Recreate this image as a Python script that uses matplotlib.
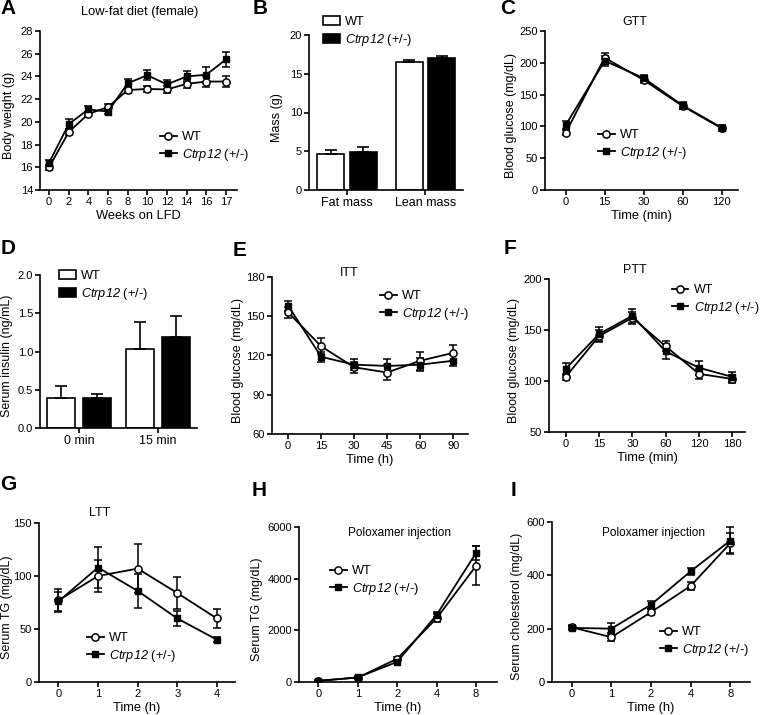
import matplotlib
matplotlib.use("Agg")
import matplotlib.pyplot as plt
import numpy as np

# -----------------------------------------------------------------------------
# Police : Liberation Sans (métriques Arial)
# Le nom du gène est en mathtext : rm et it pointent sur l'italique pour que
# les chiffres de "Ctrp12" soient aussi en italique.
# -----------------------------------------------------------------------------
plt.rcParams['font.family'] = ['Liberation Sans', 'DejaVu Sans']
plt.rcParams['mathtext.fontset'] = 'custom'
plt.rcParams['mathtext.rm'] = 'Liberation Sans:italic'
plt.rcParams['mathtext.it'] = 'Liberation Sans:italic'

W, H = 760, 715
WT_LABEL = 'WT'
KO_LABEL = r'$Ctrp12$ (+/-)'

# ---- A : poids corporel ----
a_weeks = ['0', '2', '4', '6', '8', '10', '12', '14', '16', '17']
a_wt = [16.0, 19.1, 20.7, 21.3, 22.8, 22.9, 22.85, 23.35, 23.55, 23.55]
a_wt_err = [0.2, 0.3, 0.2, 0.3, 0.3, 0.3, 0.3, 0.35, 0.5, 0.45]
a_ko = [16.4, 19.8, 21.1, 20.9, 23.4, 24.1, 23.3, 24.0, 24.15, 25.5]
a_ko_err = [0.2, 0.45, 0.3, 0.2, 0.35, 0.45, 0.4, 0.5, 0.7, 0.65]

# ---- B : masse grasse / maigre ----
b_groups = ['Fat mass', 'Lean mass']
b_wt = [4.6, 16.5]
b_wt_err = [0.5, 0.3]
b_ko = [4.85, 17.0]
b_ko_err = [0.65, 0.3]

# ---- C : GTT ----
c_time = ['0', '15', '30', '60', '120']
c_wt = [90, 208, 173, 132, 97]
c_wt_err = [4, 8, 5, 5, 4]
c_ko = [102, 203, 176, 133, 98]
c_ko_err = [6, 8, 5, 6, 4]

# ---- D : insuline ----
d_groups = ['0 min', '15 min']
d_wt = [0.39, 1.03]
d_wt_err = [0.16, 0.36]
d_ko = [0.39, 1.19]
d_ko_err = [0.06, 0.27]

# ---- E : ITT ----
e_time = ['0', '15', '30', '45', '60', '90']
e_wt = [153, 127, 111, 107, 116, 122]
e_wt_err = [4, 6, 4, 6, 7, 6]
e_ko = [158, 119, 113, 112, 113, 116]
e_ko_err = [4, 4, 4, 5, 5, 4]

# ---- F : PTT ----
f_time = ['0', '15', '30', '60', '120', '180']
f_wt = [104, 144, 162, 134, 107, 102]
f_wt_err = [3, 6, 6, 5, 5, 4]
f_ko = [112, 146, 164, 129, 113, 104]
f_ko_err = [6, 7, 7, 7, 7, 5]

# ---- G : LTT ----
g_time = ['0', '1', '2', '3', '4']
g_wt = [77, 100, 107, 84, 60]
g_wt_err = [11, 15, 23, 15, 9]
g_ko = [76, 108, 86, 60, 40]
g_ko_err = [9, 19, 16, 7, 2]

# ---- H : TG après poloxamer ----
h_time = ['0', '1', '2', '4', '8']
h_wt = [50, 170, 900, 2470, 4500]
h_wt_err = [30, 40, 80, 150, 760]
h_ko = [40, 180, 780, 2600, 5000]
h_ko_err = [30, 40, 60, 100, 270]

# ---- I : cholestérol après poloxamer ----
i_time = ['0', '1', '2', '4', '8']
i_wt = [205, 168, 262, 360, 520]
i_wt_err = [8, 15, 10, 15, 38]
i_ko = [203, 200, 290, 415, 530]
i_ko_err = [8, 20, 15, 12, 50]


fig = plt.figure(figsize=(W / 100, H / 100), dpi=100)


def px_axes(left, top, right, bottom):
    """Crée un axe à partir de coordonnées en pixels (origine en haut à gauche)."""
    ax = fig.add_axes([left / W, 1 - bottom / H, (right - left) / W, (bottom - top) / H])
    ax.px = (left, top, right, bottom)
    for side in ('top', 'right'):
        ax.spines[side].set_visible(False)
    for side in ('left', 'bottom'):
        ax.spines[side].set_linewidth(1.2)
    ax.tick_params(direction='out', length=3.5, width=1.2, labelsize=8, pad=1.5)
    return ax


def fig_text(x, y, s, **kw):
    fig.text(x / W, 1 - y / H, s, ha='center', va='center', **kw)


def set_labels(ax, ylabel, ylab_x, xlabel=None):
    """Titre d'axe y placé par son centre (pixels) ; titre x sous les graduations."""
    left, top, right, bottom = ax.px
    ax.set_ylabel(ylabel, fontsize=9)
    ax.yaxis.set_label_coords((ylab_x - left) / (right - left), 0.47)
    ax.yaxis.label.set_verticalalignment('center')
    if xlabel:
        ax.set_xlabel(xlabel, fontsize=9.3, labelpad=2.5)


def style_y(ax, ylim, step, fmt=None):
    ax.set_ylim(*ylim)
    ticks = np.arange(ylim[0], ylim[1] + step / 2, step)
    ax.set_yticks(ticks)
    if fmt:
        ax.set_yticklabels([fmt.format(t) for t in ticks])


def line_panel(ax, cats, wt, wt_err, ko, ko_err, xlim):
    x = np.arange(len(cats))
    ax.errorbar(x, ko, yerr=ko_err, fmt='none', ecolor='black', elinewidth=1.1,
                capsize=3, capthick=1.1, zorder=2)
    ax.errorbar(x, wt, yerr=wt_err, fmt='none', ecolor='black', elinewidth=1.1,
                capsize=3, capthick=1.1, zorder=2)
    ax.plot(x, wt, color='black', lw=1.3, marker='o', ms=5.2, mfc='white',
            mec='black', mew=1.1, label=WT_LABEL, zorder=3)
    ax.plot(x, ko, color='black', lw=1.3, marker='s', ms=4.8, mfc='black',
            mec='black', label=KO_LABEL, zorder=3)
    ax.set_xticks(x)
    ax.set_xticklabels(cats)
    ax.set_xlim(*xlim)


def bar_panel(ax, groups, wt, wt_err, ko, ko_err, off, width, xlim):
    x = np.arange(len(groups))
    ax.bar(x - off, wt, width, color='white', edgecolor='black', lw=1.2,
           yerr=[np.zeros(len(wt)), wt_err], capsize=4,
           error_kw=dict(elinewidth=1.2, capthick=1.2), label=WT_LABEL)
    ax.bar(x + off, ko, width, color='black', edgecolor='black', lw=1.2,
           yerr=[np.zeros(len(ko)), ko_err], capsize=4,
           error_kw=dict(elinewidth=1.2, capthick=1.2), label=KO_LABEL)
    ax.set_xticks(x)
    ax.set_xticklabels(groups, fontsize=9)
    ax.set_xlim(*xlim)


def add_legend(ax, x, y, fs=9.2, spacing=0.25):
    """Légende sans cadre, ancrée (bord gauche, centre vertical) en pixels."""
    ax.legend(loc='center left', bbox_to_anchor=(x / W, 1 - y / H),
              bbox_transform=fig.transFigure, frameon=False, fontsize=fs,
              handlelength=1.3, handletextpad=0.45, borderpad=0, borderaxespad=0,
              labelspacing=spacing, numpoints=1)


# ---- A ----
ax = px_axes(40, 31, 237, 190)
line_panel(ax, a_weeks, a_wt, a_wt_err, a_ko, a_ko_err, (-0.46, 9.56))
style_y(ax, (14, 28), 2)
set_labels(ax, 'Body weight (g)', 9, 'Weeks on LFD')
add_legend(ax, 160, 147)
fig_text(140, 12, 'Low-fat diet (female)', fontsize=9.3)

# ---- B ----
ax = px_axes(309, 35, 463, 190)
bar_panel(ax, b_groups, b_wt, b_wt_err, b_ko, b_ko_err, 0.207, 0.345, (-0.484, 1.478))
style_y(ax, (0, 20), 5)
set_labels(ax, 'Mass (g)', 277)
add_legend(ax, 323, 32)

# ---- C ----
ax = px_axes(545, 31, 738, 190)
line_panel(ax, c_time, c_wt, c_wt_err, c_ko, c_ko_err, (-0.53, 4.42))
style_y(ax, (0, 250), 50)
set_labels(ax, 'Blood glucose (mg/dL)', 511, 'Time (min)')
add_legend(ax, 598, 145)
fig_text(635, 22, 'GTT', fontsize=9)

# ---- D ----
ax = px_axes(40, 275, 197, 428)
bar_panel(ax, d_groups, d_wt, d_wt_err, d_ko, d_ko_err, 0.228, 0.354, (-0.494, 1.494))
style_y(ax, (0, 2.0), 0.5, fmt='{:.1f}')
set_labels(ax, 'Serum insulin (ng/mL)', 7)
add_legend(ax, 59, 286)

# ---- E ----
ax = px_axes(272, 277, 468, 434)
line_panel(ax, e_time, e_wt, e_wt_err, e_ko, e_ko_err, (-0.49, 5.45))
style_y(ax, (60, 180), 30)
set_labels(ax, 'Blood glucose (mg/dL)', 238, 'Time (h)')
add_legend(ax, 380, 306)
fig_text(349, 273, 'ITT', fontsize=9)

# ---- F ----
ax = px_axes(549, 279, 745, 432)
line_panel(ax, f_time, f_wt, f_wt_err, f_ko, f_ko_err, (-0.5, 5.38))
style_y(ax, (50, 200), 50)
set_labels(ax, 'Blood glucose (mg/dL)', 514, 'Time (min)')
add_legend(ax, 672, 300, fs=9)
fig_text(635, 270, 'PTT', fontsize=9)

# ---- G ----
ax = px_axes(39, 523, 235, 682)
line_panel(ax, g_time, g_wt, g_wt_err, g_ko, g_ko_err, (-0.49, 4.46))
style_y(ax, (0, 150), 50)
set_labels(ax, 'Serum TG (mg/dL)', 7, 'Time (h)')
add_legend(ax, 87, 648)
fig_text(100, 513, 'LTT', fontsize=9)

# ---- H ----
ax = px_axes(299, 527, 497, 682)
line_panel(ax, h_time, h_wt, h_wt_err, h_ko, h_ko_err, (-0.49, 4.53))
style_y(ax, (0, 6000), 2000)
set_labels(ax, 'Serum TG (mg/dL)', 257, 'Time (h)')
add_legend(ax, 330, 581)
fig_text(400, 533, 'Poloxamer injection', fontsize=8.5)

# ---- I ----
ax = px_axes(552, 522, 750, 682)
line_panel(ax, i_time, i_wt, i_wt_err, i_ko, i_ko_err, (-0.5, 4.5))
style_y(ax, (0, 600), 200)
set_labels(ax, 'Serum cholesterol (mg/dL)', 517, 'Time (h)')
add_legend(ax, 660, 642)
fig_text(653, 533, 'Poloxamer injection', fontsize=8.5)

# ---- Lettres des panneaux ----
for letter, (lx, ly) in {'A': (8, 9), 'B': (260, 9), 'C': (508, 9),
                         'D': (8, 249), 'E': (240, 251), 'F': (510, 248),
                         'G': (8, 485), 'H': (259, 491), 'I': (514, 491)}.items():
    fig_text(lx, ly, letter, fontsize=15, fontweight='bold')

fig.savefig('out.png', dpi=100)
